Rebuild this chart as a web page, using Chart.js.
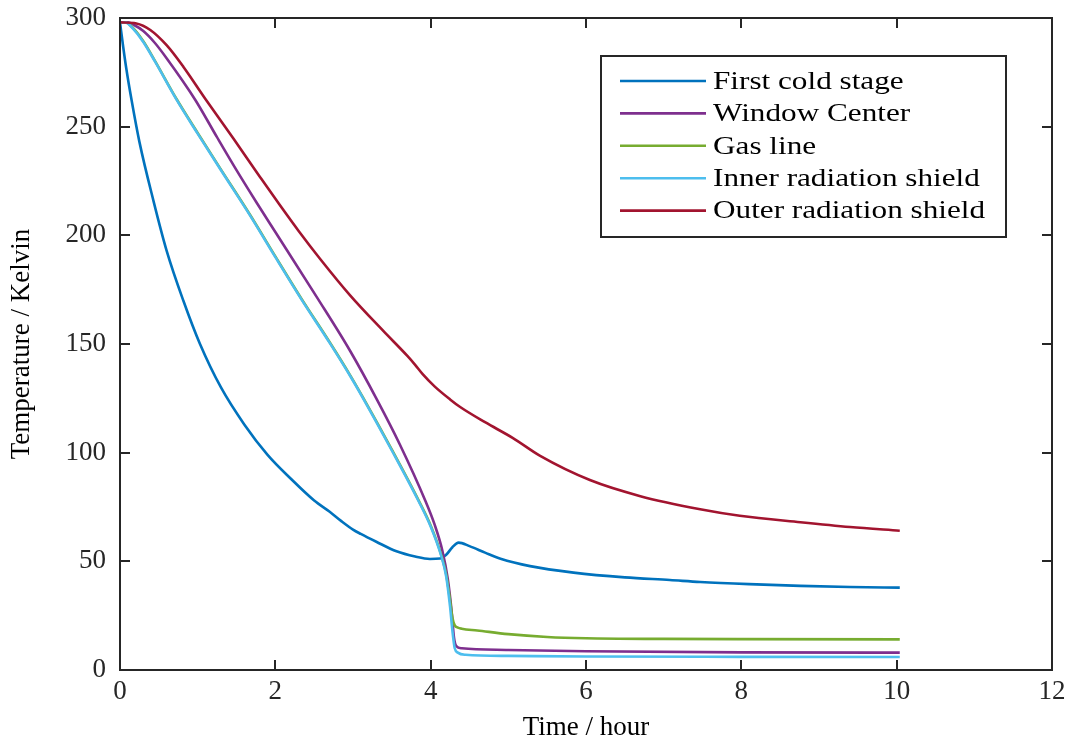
<!DOCTYPE html>
<html>
<head>
<meta charset="utf-8">
<script src="https://cdn.jsdelivr.net/npm/chart.js@4/dist/chart.umd.min.js"></script>
<style>
  html, body { margin: 0; padding: 0; background: #fff; }
  #wrap { width: 1067px; height: 741px; position: relative; }
</style>
</head>
<body>
<div id="wrap"><canvas id="c" width="1067" height="741"></canvas></div>
<script>
// ---- Data ----
const seriesNames = ["First cold stage", "Window Center", "Gas line", "Inner radiation shield", "Outer radiation shield"];
const seriesColors = ["#0072BD", "#7E2F8E", "#77AC30", "#4DBEEE", "#A2142F"];

const coldStageTime = [0, 0.04, 0.08, 0.15, 0.25, 0.43, 0.6, 0.815, 1.03, 1.3, 1.6, 1.9, 2.2, 2.5, 2.7, 2.85, 3.0, 3.1, 3.3, 3.56, 3.8, 3.99, 4.12, 4.2, 4.28, 4.36, 4.5, 4.7, 4.9, 5.28, 5.84, 6.5, 7.08, 7.47, 8.1, 8.76, 9.4, 10.04];
const coldStageK    = [298, 287, 277, 262, 243, 216, 193, 170, 150, 130, 113, 99, 88, 78, 72.8, 68.5, 64.6, 62.6, 59, 54.6, 52.2, 51.1, 51.3, 53, 56.5, 58.6, 57.0, 54.0, 51.2, 47.8, 44.8, 42.6, 41.4, 40.5, 39.5, 38.7, 38.2, 37.9];

const windowTime = [0, 0.1, 0.17, 0.3, 0.45, 0.6, 0.97, 1.245, 1.5, 1.76, 2.0, 2.53, 2.96, 3.31, 3.6, 3.93, 4.05, 4.15, 4.22, 4.27, 4.3, 4.33, 4.4, 5, 6, 8, 10.04];
const windowK    = [298, 298, 297, 294, 288.5, 281.5, 262.3, 245.4, 230, 215, 201.5, 171.8, 147, 124.3, 104, 78, 67, 55, 42, 27, 15, 11, 10, 9.2, 8.6, 8.1, 8.0];

const gasTime = [0, 0.07, 0.17, 0.3, 0.45, 0.73, 1.0, 1.29, 1.67, 2.0, 2.34, 2.7, 2.96, 3.13, 3.5, 3.84, 4.0, 4.14, 4.2, 4.25, 4.28, 4.31, 4.35, 4.4, 4.6, 5, 5.5, 6, 7, 8, 10.04];
const gasK    = [298, 298, 295.3, 289.3, 280.3, 262.6, 247.1, 230.8, 209.7, 190.3, 170.6, 150.8, 135.8, 125.3, 101.4, 78.4, 66.5, 52.5, 44, 32, 24, 20.5, 19.5, 19, 18.2, 16.5, 15.2, 14.6, 14.3, 14.2, 14.1];

const innerTime = [0, 0.07, 0.17, 0.3, 0.45, 0.73, 1.0, 1.29, 1.67, 2.0, 2.34, 2.7, 2.96, 3.13, 3.5, 3.84, 4.0, 4.14, 4.2, 4.25, 4.28, 4.31, 4.35, 4.45, 5, 6, 8, 10.04];
const innerK    = [298, 298, 295, 289, 280, 262.3, 246.8, 230.5, 209.4, 190, 170.3, 150.5, 135.5, 125, 101, 78, 66, 52, 43, 29, 18, 10, 8, 7, 6.5, 6.2, 6.05, 6.0];

const outerTime = [0, 0.21, 0.39, 0.6, 0.815, 1.095, 1.46, 1.8, 2.06, 2.3, 2.58, 2.96, 3.39, 3.7, 3.8, 3.9, 4.05, 4.25, 4.38, 4.7, 5.06, 5.41, 6.05, 6.7, 7.47, 7.98, 8.76, 9.4, 10.04];
const outerK    = [298, 297.5, 294.5, 287.5, 277.6, 263, 244.5, 227, 213.8, 202, 189, 172.5, 156, 144.5, 140.4, 136, 130.5, 124.5, 121, 114, 106.7, 98.5, 87.4, 80, 74, 71, 68, 65.8, 64.1];

const xTickStep = 2, xMin = 0, xMax = 12;
const yTickStep = 50, yMin = 0, yMax = 300;
const xTitle = "Time / hour";
const yTitle = "Temperature / Kelvin";

// ---- Build datasets ----
function pts(t, k) { return t.map((v, i) => ({ x: v, y: k[i] })); }
const allT = [coldStageTime, windowTime, gasTime, innerTime, outerTime];
const allK = [coldStageK, windowK, gasK, innerK, outerK];
const drawOrder = [5, 4, 3, 2, 1];

const FONT = "'Liberation Serif', 'Times New Roman', serif";
const AXIS_COLOR = "#262626";

const datasets = seriesNames.map((name, i) => ({
  label: name,
  data: pts(allT[i], allK[i]),
  borderColor: seriesColors[i],
  backgroundColor: seriesColors[i],
  borderWidth: 2.6,
  pointRadius: 0,
  fill: false,
  cubicInterpolationMode: 'monotone',
  order: drawOrder[i]
}));

// frame + inward ticks on all four sides
const framePlugin = {
  id: 'frame',
  afterDatasetsDraw(chart) {
    const { ctx, chartArea: a, scales } = chart;
    ctx.save();
    ctx.strokeStyle = AXIS_COLOR;
    ctx.lineWidth = 2;
    ctx.beginPath();
    const tl = 10;
    scales.x.ticks.forEach(t => {
      const px = Math.round(scales.x.getPixelForValue(t.value));
      ctx.moveTo(px, a.bottom); ctx.lineTo(px, a.bottom - tl);
      ctx.moveTo(px, a.top); ctx.lineTo(px, a.top + tl);
    });
    scales.y.ticks.forEach(t => {
      const py = Math.round(scales.y.getPixelForValue(t.value));
      ctx.moveTo(a.left, py); ctx.lineTo(a.left + tl, py);
      ctx.moveTo(a.right, py); ctx.lineTo(a.right - tl, py);
    });
    ctx.stroke();
    ctx.strokeRect(a.left, a.top, a.right - a.left, a.bottom - a.top);
    ctx.restore();
  }
};

// legend box inside the plot (top right)
const legendPlugin = {
  id: 'boxLegend',
  afterDraw(chart) {
    const { ctx, chartArea: a } = chart;
    const w = 405, h = 181;
    const right = a.right - 46, top = a.top + 38;
    const left = right - w;
    ctx.save();
    ctx.fillStyle = '#fff';
    ctx.fillRect(left, top, w, h);
    ctx.strokeStyle = AXIS_COLOR;
    ctx.lineWidth = 2;
    ctx.strokeRect(left, top, w, h);
    ctx.font = "26px " + FONT;
    ctx.textBaseline = 'middle';
    ctx.textAlign = 'left';
    chart.data.datasets.forEach((ds, i) => {
      const y = top + 25 + i * 32.4;
      ctx.strokeStyle = ds.borderColor;
      ctx.lineWidth = 2.6;
      ctx.beginPath();
      ctx.moveTo(left + 19, y);
      ctx.lineTo(left + 105, y);
      ctx.stroke();
      ctx.save();
      ctx.translate(left + 112, y + 1);
      ctx.scale(1.2, 1);
      ctx.fillStyle = '#000';
      ctx.fillText(ds.label, 0, 0);
      ctx.restore();
    });
    ctx.restore();
  }
};

new Chart(document.getElementById('c'), {
  type: 'line',
  data: { datasets },
  options: {
    responsive: false,
    animation: false,
    devicePixelRatio: 1,
    layout: { padding: { top: 18, right: 15, left: 0, bottom: 0 } },
    plugins: { legend: { display: false }, tooltip: { enabled: false } },
    scales: {
      x: {
        type: 'linear',
        min: xMin, max: xMax,
        grid: { display: false, drawTicks: false },
        border: { display: false },
        ticks: { stepSize: xTickStep, color: AXIS_COLOR, font: { family: FONT, size: 27 }, padding: 6, maxRotation: 0 },
        title: { display: true, text: xTitle, color: '#000', font: { family: FONT, size: 27 }, padding: { top: 0, bottom: -3 } },
        afterFit(s) { s.height = 71; s.paddingLeft = 0; s.paddingRight = 0; }
      },
      y: {
        type: 'linear',
        min: yMin, max: yMax,
        grid: { display: false, drawTicks: false },
        border: { display: false },
        ticks: { stepSize: yTickStep, color: AXIS_COLOR, font: { family: FONT, size: 27 }, padding: 14 },
        title: { display: true, text: yTitle, color: '#000', font: { family: FONT, size: 27 }, padding: { top: 6, bottom: 0 } },
        afterFit(s) { s.width = 120; s.paddingTop = 0; s.paddingBottom = 0; }
      }
    }
  },
  plugins: [framePlugin, legendPlugin]
});
</script>
</body>
</html>
